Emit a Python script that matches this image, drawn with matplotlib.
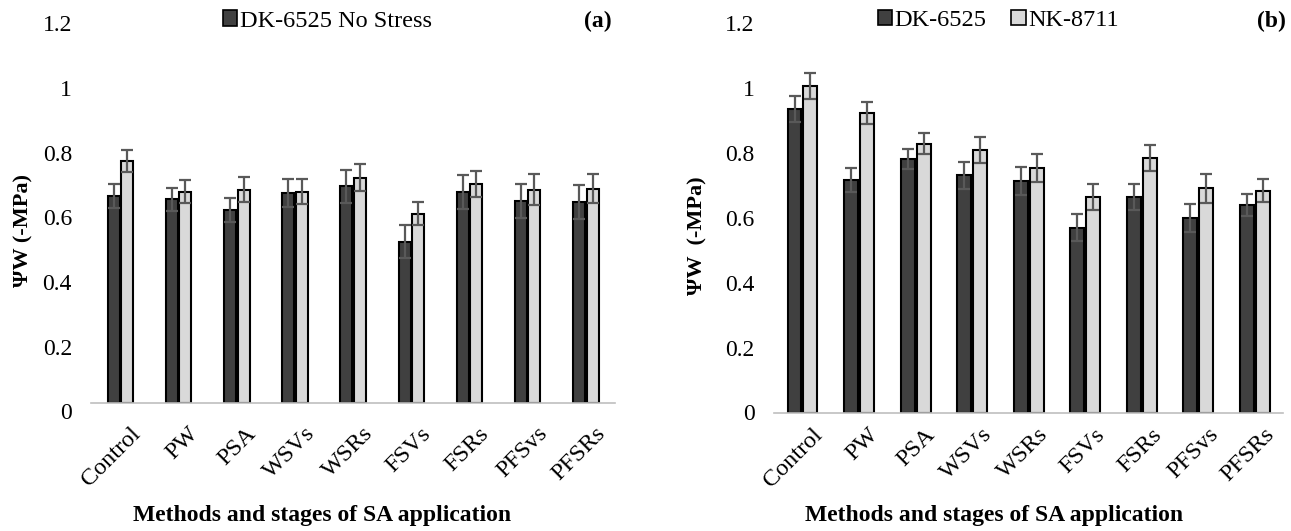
import matplotlib
matplotlib.use("Agg")
import matplotlib.pyplot as plt
import matplotlib.transforms as mtransforms
from matplotlib.patches import Patch
import numpy as np

plt.rcParams['font.family'] = ['Liberation Serif', 'DejaVu Serif']

categories = ["Control", "PW", "PSA", "WSVs", "WSRs", "FSVs", "FSRs", "PFSvs", "PFSRs"]

# Panel (a)
a_dk = [0.641, 0.631, 0.598, 0.651, 0.671, 0.500, 0.654, 0.625, 0.622]
a_dk_err = [0.036, 0.036, 0.038, 0.044, 0.051, 0.052, 0.052, 0.053, 0.053]
a_nk = [0.749, 0.654, 0.661, 0.654, 0.698, 0.586, 0.678, 0.661, 0.664]
a_nk_err = [0.034, 0.036, 0.040, 0.039, 0.041, 0.036, 0.041, 0.047, 0.046]

# Panel (b)
b_dk = [0.935, 0.716, 0.781, 0.730, 0.714, 0.569, 0.664, 0.599, 0.639]
b_dk_err = [0.040, 0.036, 0.031, 0.042, 0.043, 0.041, 0.039, 0.043, 0.035]
b_nk = [1.006, 0.922, 0.828, 0.808, 0.754, 0.664, 0.784, 0.690, 0.683]
b_nk_err = [0.039, 0.034, 0.032, 0.040, 0.043, 0.040, 0.040, 0.044, 0.036]

yticks = [0, 0.2, 0.4, 0.6, 0.8, 1.0, 1.2]
ytick_labels = ["0", "0.2", "0.4", "0.6", "0.8", "1", "1.2"]

DARK = "#404040"
LIGHT = "#d9d9d9"
ERRC = "#595959"

W, H = 1291, 531
fig = plt.figure(figsize=(W / 100, H / 100), dpi=100)

ax_a = fig.add_axes([91.4 / W, 1 - 403.3 / H, (615 - 91.4) / W, (403.3 - 15.2) / H])
ax_b = fig.add_axes([774.2 / W, 1 - 412.5 / H, (1283.3 - 774.2) / W, (412.5 - 22.9) / H])


def draw(ax, dk, dke, nk, nke, width, gap, dy_px):
    x = np.arange(len(categories))
    off = width / 2 + gap / 2
    ax.bar(x - off, dk, width, color=DARK, edgecolor="black", linewidth=1.5, zorder=2)
    ax.bar(x + off, nk, width, color=LIGHT, edgecolor="black", linewidth=1.5, zorder=2)
    ax.errorbar(x - off, dk, yerr=dke, fmt="none", ecolor=ERRC, elinewidth=1.6,
                capsize=4.2, capthick=1.6, zorder=3)
    ax.errorbar(x + off, nk, yerr=nke, fmt="none", ecolor=ERRC, elinewidth=1.6,
                capsize=4.2, capthick=1.6, zorder=3)
    ax.set_xlim(-0.5, len(categories) - 0.5)
    ax.set_ylim(0, 1.2)
    ax.set_yticks(yticks)
    ax.set_yticklabels(ytick_labels, fontsize=17)
    ax.set_xticks(x)
    ax.set_xticklabels(categories, rotation=45, ha="right", rotation_mode="anchor", fontsize=17.5)
    for s in ["top", "right", "left"]:
        ax.spines[s].set_visible(False)
    ax.spines["bottom"].set_color("#bfbfbf")
    ax.spines["bottom"].set_linewidth(1.2)
    ax.tick_params(axis="both", length=0)
    ax.tick_params(axis="y", pad=14)
    ax.tick_params(axis="x", pad=7)
    ax.patch.set_alpha(0)
    shift = mtransforms.ScaledTranslation(9 / 100, -dy_px / 100, fig.dpi_scale_trans)
    for lbl in ax.get_xticklabels():
        lbl.set_transform(lbl.get_transform() + shift)


draw(ax_a, a_dk, a_dk_err, a_nk, a_nk_err, 0.206, 0.025, 10)
draw(ax_b, b_dk, b_dk_err, b_nk, b_nk_err, 0.247, 0.035, 2)

# shift panel (a) y tick labels down a bit as in the reference
offset = mtransforms.ScaledTranslation(0, -8 / 100, fig.dpi_scale_trans)
for lbl in ax_a.get_yticklabels():
    lbl.set_transform(lbl.get_transform() + offset)

# legends
h_dk = Patch(facecolor=DARK, edgecolor="black", linewidth=1.2)
h_nk = Patch(facecolor=LIGHT, edgecolor="black", linewidth=1.2)
ax_a.legend([h_dk], ["DK-6525 No Stress"], loc="center", bbox_to_anchor=(0.45, 0.985),
            frameon=False, fontsize=17.5, handlelength=0.6, handleheight=0.6,
            handletextpad=0.1, borderaxespad=0)
ax_b.legend([h_dk, h_nk], ["DK-6525", "NK-8711"], loc="center", bbox_to_anchor=(0.44, 1.007),
            ncol=2, frameon=False, fontsize=17.5, handlelength=0.6, handleheight=0.6,
            handletextpad=0.1, columnspacing=1.0, borderaxespad=0)

fig.text(612 / W, 1 - 21 / H, "(a)", fontsize=17, fontweight="bold", ha="right", va="center")
fig.text(1286 / W, 1 - 21 / H, "(b)", fontsize=17, fontweight="bold", ha="right", va="center")

fig.text(322 / W, 1 - 515 / H, "Methods and stages of SA application", fontsize=17,
         fontweight="bold", ha="center", va="center")
fig.text(994 / W, 1 - 515 / H, "Methods and stages of SA application", fontsize=17,
         fontweight="bold", ha="center", va="center")

fig.text(23 / W, 1 - 230 / H, "ΨW (-MPa)", fontsize=16, fontweight="bold", rotation=90,
         ha="center", va="center")
fig.text(697 / W, 1 - 236 / H, "ΨW  (-MPa)", fontsize=16, fontweight="bold", rotation=90,
         ha="center", va="center")

fig.savefig("out.png", dpi=100)
